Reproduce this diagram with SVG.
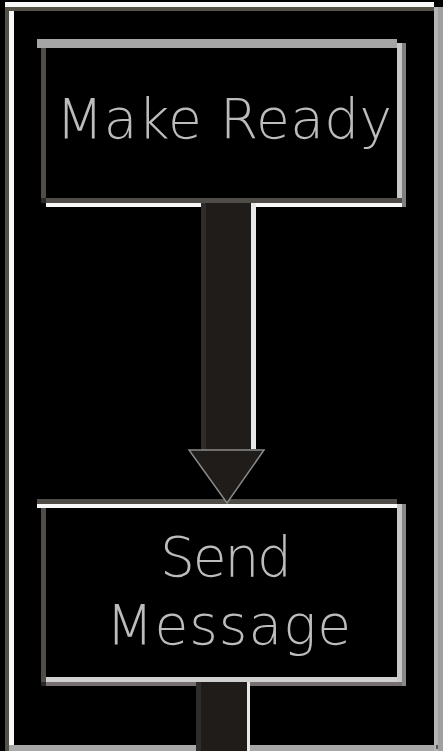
<svg xmlns="http://www.w3.org/2000/svg" width="443" height="751" viewBox="0 0 443 751">
<style>
.lbl{font-family:"DejaVu Sans","Liberation Sans",sans-serif;font-size:55px;font-weight:200;fill:#bcbcbc}
.shaft{fill:#201c1a}
.edge{fill:#302c2a}
.hi{fill:#e8e8e8}
</style>
<rect x="0" y="0" width="443" height="751" fill="#000"/>
<g id="frame">
<rect x="5" y="2" width="429" height="5" fill="#f8f8f8"/>
<rect x="5" y="7" width="429" height="4" fill="#555048"/>
<rect x="5" y="7" width="4" height="744" fill="#555048"/>
<rect x="9" y="11" width="5" height="734" fill="#f8f8f8"/>
<rect x="434" y="7" width="4" height="744" fill="#b4b4b4"/>
<rect x="438" y="7" width="5" height="744" fill="#a0a0a0"/>
<rect x="9" y="745" width="425" height="6" fill="#a8a8a8"/>
<rect x="436" y="745" width="2" height="4" fill="#555"/>
</g>
<g id="node-make-ready">
<rect x="37" y="39" width="360" height="9" fill="#a5a5a5"/>
<rect x="41" y="48" width="5" height="155" fill="#504c48"/>
<rect x="41" y="198" width="361" height="5" fill="#504c48"/>
<rect x="41" y="198" width="5" height="5" fill="#2a2828"/>
<rect x="46" y="203" width="356" height="4" fill="#f8f8f8"/>
<rect x="397" y="43" width="5" height="155" fill="#c8c8c8"/>
<rect x="402" y="43" width="4" height="164" fill="#808080"/>
<text class="lbl" x="56" y="138" textLength="336" lengthAdjust="spacing">Make Ready</text>
</g>
<g id="node-send-message">
<rect x="37" y="499" width="360" height="5" fill="#504c48"/>
<rect x="37" y="504" width="360" height="4" fill="#f8f8f8"/>
<rect x="41" y="508" width="5" height="178" fill="#504c48"/>
<rect x="397" y="504" width="5" height="178" fill="#c8c8c8"/>
<rect x="402" y="504" width="4" height="182" fill="#888888"/>
<rect x="46" y="677" width="351" height="5" fill="#d0d0d0"/>
<rect x="41" y="682" width="361" height="4" fill="#787070"/>
<rect x="41" y="682" width="5" height="4" fill="#2a2828"/>
<text class="lbl" x="160" y="576" textLength="132" lengthAdjust="spacing">Send</text>
<text class="lbl" x="106" y="644" textLength="245" lengthAdjust="spacing">Message</text>
</g>
<g id="connectors">
<g id="arrow-1">
<rect class="shaft" x="201" y="203" width="50" height="248"/>
<rect class="edge" x="201" y="203" width="5" height="248"/>
<rect class="hi" x="251" y="203" width="5" height="246"/>
<polygon class="shaft" points="189,450 264,450 227,503" stroke="#8a8a8a" stroke-width="1.5"/>
</g>
<g id="arrow-2">
<rect class="shaft" x="196" y="682" width="51" height="69"/>
<rect class="edge" x="196" y="682" width="5" height="69"/>
<rect class="hi" x="247" y="682" width="3" height="69"/>
</g>
</g>
</svg>
